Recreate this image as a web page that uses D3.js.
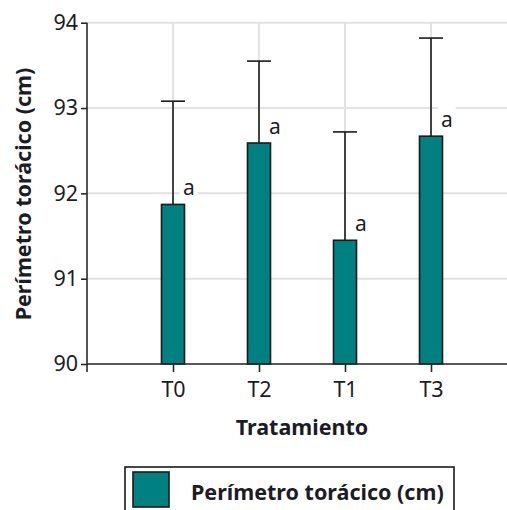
<!DOCTYPE html>
<html>
<head>
<meta charset="utf-8">
<script src="https://cdn.jsdelivr.net/npm/d3@7"></script>
<style>
  html, body { margin: 0; padding: 0; background: #fff; }
  svg { display: block; }
  text { font-family: "Noto Sans", "Open Sans", sans-serif; fill: #1c1c24; }
</style>
</head>
<body>
<svg id="chart" width="507" height="510"></svg>
<script>
// Treatments in display order
const categories = ["T0", "T2", "T1", "T3"];
// Mean thoracic perimeter (cm) per treatment
const means = [91.87, 92.59, 91.45, 92.67];
// Upper end of the error bar (mean + error)
const upperErr = [93.08, 93.55, 92.72, 93.82];
// Significance letters
const letters = ["a", "a", "a", "a"];
// Y axis ticks
const yTicks = [90, 91, 92, 93, 94];

const seriesName = "Perímetro torácico (cm)";
const xTitle = "Tratamiento";
const yTitle = "Perímetro torácico (cm)";

const plot = { left: 87, top: 22.7, bottom: 364, right: 517 };
const teal = "#008080";
const ink = "#1c1c24";

const svg = d3.select("#chart");

const y = d3.scaleLinear().domain([90, 94]).range([plot.bottom, plot.top]);
const x = d3.scalePoint().domain(categories).range([plot.left, plot.right]).padding(1);
const barW = 23;

// gridlines
const grid = svg.append("g");
grid.selectAll("line.h").data(yTicks).join("line")
  .attr("x1", plot.left).attr("x2", plot.right)
  .attr("y1", d => y(d)).attr("y2", d => y(d))
  .attr("stroke", "#e2e2e2").attr("stroke-width", 2);
grid.selectAll("line.v").data(categories).join("line")
  .attr("x1", d => x(d)).attr("x2", d => x(d))
  .attr("y1", plot.top).attr("y2", plot.bottom)
  .attr("stroke", "#e2e2e2").attr("stroke-width", 2);

const data = categories.map((c, i) => ({ c, m: means[i], u: upperErr[i], l: letters[i] }));

// error bars (upper only)
const err = svg.append("g").attr("stroke", "#1a1a1a").attr("stroke-width", 1.6);
err.selectAll("line.stem").data(data).join("line")
  .attr("x1", d => x(d.c)).attr("x2", d => x(d.c))
  .attr("y1", d => y(d.m)).attr("y2", d => y(d.u));
err.selectAll("line.cap").data(data).join("line")
  .attr("x1", d => x(d.c) - 12).attr("x2", d => x(d.c) + 12)
  .attr("y1", d => y(d.u)).attr("y2", d => y(d.u));

// bars
svg.append("g").selectAll("rect").data(data).join("rect")
  .attr("x", d => x(d.c) - barW / 2)
  .attr("width", barW)
  .attr("y", d => y(d.m))
  .attr("height", d => y(90) - y(d.m))
  .attr("fill", teal)
  .attr("stroke", "#1a1a1a")
  .attr("stroke-width", 1.6);

// letter labels with white backing
const lab = svg.append("g").selectAll("g").data(data).join("g");
lab.append("rect").attr("fill", "#fff");
lab.append("text")
  .attr("x", d => x(d.c) + 10)
  .attr("y", d => y(d.m) - 9)
  .attr("font-size", 21)
  .text(d => d.l);
lab.each(function () {
  const g = d3.select(this);
  const b = g.select("text").node().getBBox();
  g.select("rect").attr("x", b.x - 3).attr("y", b.y).attr("width", b.width + 6).attr("height", b.height);
});

// y axis
const yAxis = svg.append("g").attr("transform", `translate(${plot.left},0)`)
  .call(d3.axisLeft(y).tickValues(yTicks).tickSize(6).tickPadding(3).tickFormat(d3.format("d")));
yAxis.select(".domain").remove();
yAxis.selectAll("line").attr("stroke", "#2a2a2a").attr("stroke-width", 1.6);
yAxis.selectAll("text").attr("font-size", 21.5).attr("font-family", "Noto Sans").attr("fill", ink);
svg.append("line")
  .attr("x1", plot.left).attr("x2", plot.left)
  .attr("y1", plot.top).attr("y2", plot.bottom + 8)
  .attr("stroke", "#2a2a2a").attr("stroke-width", 1.6);

// x axis
const xAxis = svg.append("g").attr("transform", `translate(0,${plot.bottom})`)
  .call(d3.axisBottom(x).tickSize(8).tickPadding(10));
xAxis.select(".domain").remove();
xAxis.selectAll("line").attr("stroke", "#2a2a2a").attr("stroke-width", 1.6);
xAxis.selectAll("text").attr("font-size", 21.5).attr("font-family", "Noto Sans").attr("fill", ink);
svg.append("line")
  .attr("x1", plot.left).attr("x2", plot.right)
  .attr("y1", plot.bottom).attr("y2", plot.bottom)
  .attr("stroke", "#2a2a2a").attr("stroke-width", 1.6);

// axis titles
svg.append("text")
  .attr("transform", `translate(31,194) rotate(-90)`)
  .attr("text-anchor", "middle")
  .attr("font-size", 21.5).attr("font-weight", "bold")
  .text(yTitle);
svg.append("text")
  .attr("x", 302).attr("y", 435)
  .attr("text-anchor", "middle")
  .attr("font-size", 21.5).attr("font-weight", "bold")
  .text(xTitle);

// legend
const leg = svg.append("g");
leg.append("rect").attr("x", 125).attr("y", 467).attr("width", 329).attr("height", 60)
  .attr("fill", "#fff").attr("stroke", "#1a1a1a").attr("stroke-width", 1.6);
leg.append("rect").attr("x", 133).attr("y", 472).attr("width", 36).attr("height", 35)
  .attr("fill", teal).attr("stroke", "#1a1a1a").attr("stroke-width", 1.6);
leg.append("text").attr("x", 191).attr("y", 500)
  .attr("font-size", 21.5).attr("font-weight", "bold")
  .text(seriesName);
</script>
</body>
</html>
